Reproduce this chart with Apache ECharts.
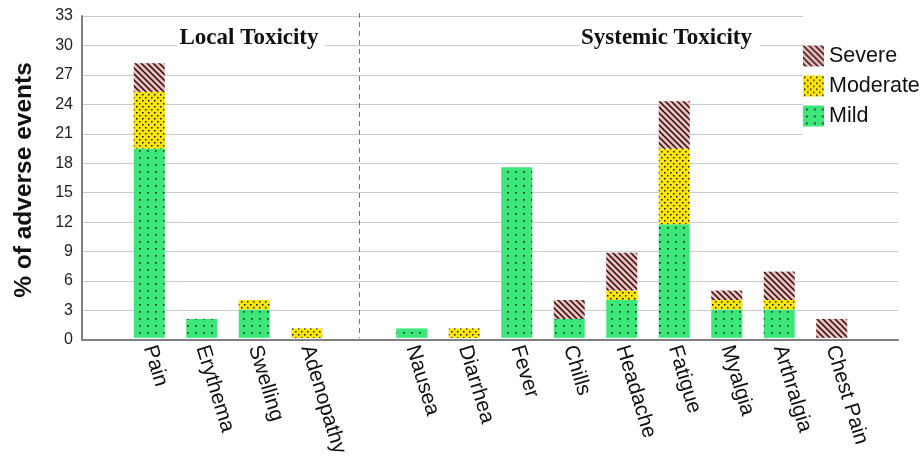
<!DOCTYPE html>
<html>
<head>
<meta charset="utf-8">
<script src="https://cdn.jsdelivr.net/npm/echarts@6/dist/echarts.min.js"></script>
<style>
html,body{margin:0;padding:0;background:#fff;}
#c{width:922px;height:459px;}
</style>
</head>
<body>
<div id="c"></div>
<script>
// ---- data ----
const categories = ['Pain','Erythema','Swelling','Adenopathy','','Nausea','Diarrhea','Fever','Chills','Headache','Fatigue','Myalgia','Arthralgia','Chest Pain'];
const mild     = [19.42, 1.94, 2.91, 0,    0, 0.97, 0,    17.48, 1.94, 3.88, 11.65, 2.91, 2.91, 0];
const moderate = [5.83,  0,    0.97, 0.97, 0, 0,    0.97, 0,     0,    0.97, 7.77,  0.97, 0.97, 0];
const severe   = [2.91,  0,    0,    0,    0, 0,    0,    0,     1.94, 3.88, 4.85,  0.97, 2.91, 1.94];
const seriesNames = ['Mild','Moderate','Severe'];
const legendOrder = ['Severe','Moderate','Mild'];
const groupTitles = ['Local Toxicity','Systemic Toxicity'];
const yTitle = '% of adverse events';
const yMin = 0, yMax = 33, yStep = 3;
const dividerIndex = 4;

// ---- patterns ----
function tile(w, h, draw){
  const c = document.createElement('canvas');
  c.width = w; c.height = h;
  const g = c.getContext('2d');
  draw(g, w, h);
  return {image: c, repeat: 'repeat'};
}
const mildFill = tile(8, 7, (g,w,h)=>{
  g.fillStyle = '#3de87a'; g.fillRect(0,0,w,h);
  g.fillStyle = '#111'; g.fillRect(3,3,1.6,1.6);
});
const modFill = tile(6, 6, (g,w,h)=>{
  g.fillStyle = '#ffe600'; g.fillRect(0,0,w,h);
  g.fillStyle = '#111'; g.fillRect(1,1,1.5,1.5); g.fillRect(4,4,1.5,1.5);
});
const sevFill = tile(6, 6, (g,w,h)=>{
  g.fillStyle = '#f7b8b8'; g.fillRect(0,0,w,h);
  g.strokeStyle = '#111'; g.lineWidth = 1.5;
  for (const c of [-6,0,6]) { g.beginPath(); g.moveTo(-2,-2+c); g.lineTo(8,8+c); g.stroke(); }
});
const fills = [mildFill, modFill, sevFill];
const values = [mild, moderate, severe];

const chart = echarts.init(document.getElementById('c'), null, {renderer:'canvas'});
const gridTop = 16, gridBottom = 119;
const baseGraphic = [
  {id: 'ytitle', type: 'text', x: 24, y: 180, rotation: Math.PI/2, z: 100,
   style: {text: yTitle, font: 'bold 24.5px "Liberation Sans"', fill: '#111', align: 'center', verticalAlign: 'middle'}},
  {id: 't1', type: 'text', x: 251, y: 38, z: 100,
   style: {text: groupTitles[0], font: 'bold 23px "Liberation Serif"', fill: '#111', align: 'center', verticalAlign: 'middle',
           backgroundColor: '#fff', padding: [3,6,3,2]}},
  {id: 't2', type: 'text', x: 670, y: 38, z: 100,
   style: {text: groupTitles[1], font: 'bold 23px "Liberation Serif"', fill: '#111', align: 'center', verticalAlign: 'middle',
           backgroundColor: '#fff', padding: [3,8,3,1]}}
];
const option = {
  animation: false,
  backgroundColor: '#fff',
  grid: [
    {left: 82, right: 24, top: gridTop, bottom: gridBottom},
    {left: 123, right: 64, top: gridTop, bottom: gridBottom}
  ],
  xAxis: [
    {gridIndex: 0, type: 'value', min: 0, max: 1, axisLine: {show: true, onZero: false, lineStyle: {color: '#7f7f7f', width: 2}},
     axisTick: {show: false}, axisLabel: {show: false}, splitLine: {show: false}},
    {gridIndex: 1, type: 'category', data: categories, axisLine: {show: false}, axisTick: {show: false},
     axisLabel: {interval: 0, rotate: -73, margin: 8, fontSize: 21, color: '#111', fontFamily: 'Liberation Sans'}}
  ],
  yAxis: [
    {gridIndex: 0, type: 'value', min: yMin, max: yMax, interval: yStep,
     axisLine: {show: true, lineStyle: {color: '#7f7f7f', width: 2}}, axisTick: {show: false},
     axisLabel: {fontSize: 16, color: '#222', margin: 9, fontFamily: 'Liberation Sans', padding: [4,0,0,0]},
     splitLine: {lineStyle: {color: '#cccccc', width: 1}}},
    {gridIndex: 1, type: 'value', min: yMin, max: yMax, interval: yStep, show: false, splitLine: {show: false}}
  ],
  legend: {
    data: legendOrder, orient: 'vertical', left: 803, top: 16,
    padding: [29, 40, 14, 0], backgroundColor: '#fff',
    itemWidth: 21, itemHeight: 21, itemGap: 8,
    textStyle: {fontSize: 21.5, color: '#111', fontFamily: 'Liberation Sans', lineHeight: 21, padding: [1,0,0,0]},
    icon: 'rect', selectedMode: false
  },
  graphic: baseGraphic,
  series: seriesNames.map((name, i) => ({
    name, type: 'bar', stack: 'tox', xAxisIndex: 1, yAxisIndex: 1,
    barWidth: 31, data: values[i],
    itemStyle: {color: fills[i]}
  }))
};
chart.setOption(option);

// dashed divider between the two groups, positioned through the axes
const dx = chart.convertToPixel({xAxisIndex: 1}, dividerIndex);
const dyTop = chart.convertToPixel({yAxisIndex: 1}, yMax) - 3;
const dyBot = chart.convertToPixel({yAxisIndex: 1}, yMin);
chart.setOption({graphic: baseGraphic.concat([{
  id: 'divider', type: 'line', z: 50, silent: true,
  shape: {x1: Math.round(dx) + 0.5, y1: dyTop, x2: Math.round(dx) + 0.5, y2: dyBot},
  style: {stroke: '#777', lineWidth: 1, lineDash: [5, 4]}
}])});
</script>
</body>
</html>
